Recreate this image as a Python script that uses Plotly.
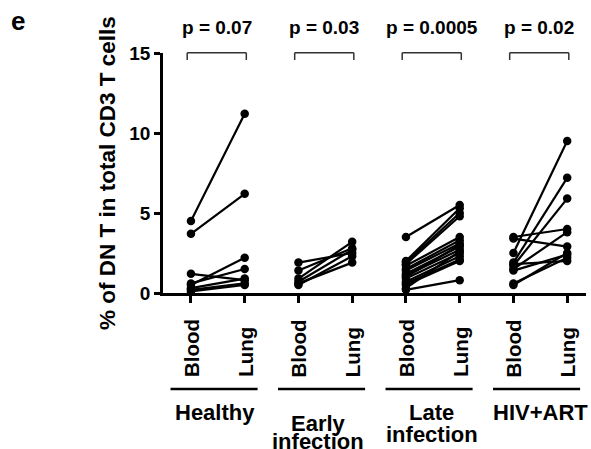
import plotly.graph_objects as go

# ---- data ----
groups = ["Healthy", "Early<br>infection", "Late<br>infection", "HIV+ART"]
sites = ["Blood", "Lung"]
p_values = ["p = 0.07", "p = 0.03", "p = 0.0005", "p = 0.02"]
y_ticks = [0, 5, 10, 15]

healthy_blood = [4.5, 3.7, 1.2, 0.5, 0.6, 0.3, 0.2, 0.1]
healthy_lung = [11.2, 6.2, 0.8, 2.2, 1.5, 0.9, 0.6, 0.5]

early_blood = [1.9, 1.4, 0.9, 0.7, 0.5, 0.6]
early_lung = [2.5, 2.8, 3.2, 2.7, 2.3, 1.9]

late_blood = [3.5, 2.0, 1.9, 1.8, 1.7, 1.5, 1.4, 1.2, 1.1, 1.0, 0.9, 0.7, 0.6, 0.5, 0.3, 0.2]
late_lung = [5.5, 5.3, 5.0, 4.8, 3.5, 3.3, 3.1, 2.9, 2.7, 3.0, 2.5, 2.3, 2.1, 2.0, 2.6, 0.8]

hiv_blood = [2.5, 1.9, 1.7, 3.5, 3.4, 1.5, 1.8, 0.5, 0.6, 1.4]
hiv_lung = [9.5, 7.2, 5.9, 4.0, 2.9, 3.8, 2.0, 2.5, 2.2, 2.4]

group_data = [
    (healthy_blood, healthy_lung),
    (early_blood, early_lung),
    (late_blood, late_lung),
    (hiv_blood, hiv_lung),
]

# ---- layout geometry (pixels) ----
W, H = 591, 449
L, R, T, B = 163, 5, 53, 156
PW, PH = W - L - R, H - T - B
FONT = "Arial, Liberation Sans, sans-serif"
label_shift = [-0.05, -0.13, -0.02, 0.0]
label_tops = [[398], [409, 427], [398, 420], [398]]


def px_x(p):
    return (p - L) / PW


def px_y(p):
    return (H - B - p) / PH


fig = go.Figure()

for gi, (blood, lung) in enumerate(group_data):
    xs, ys = [], []
    for b, l in zip(blood, lung):
        xs += [2 * gi, 2 * gi + 1, None]
        ys += [b, l, None]
    fig.add_trace(go.Scatter(
        x=xs, y=ys, mode="lines+markers",
        line=dict(color="black", width=2.2),
        marker=dict(color="black", size=8.5),
        showlegend=False, hoverinfo="skip",
    ))

annotations = []
shapes = []

for gi, g in enumerate(groups):
    xb, xl = 2 * gi, 2 * gi + 1
    # site labels
    for k, s in enumerate(sites):
        annotations.append(dict(
            x=xb + k, xref="x", y=px_y(379), yref="paper",
            text=s, textangle=-90, showarrow=False,
            xanchor="center", yanchor="bottom",
            font=dict(family=FONT, size=20.5, color="black", weight="bold"),
        ))
    # underline
    shapes.append(dict(
        type="line", xref="x", yref="paper",
        x0=xb - 0.38, x1=xl + 0.24, y0=px_y(389), y1=px_y(389),
        line=dict(color="black", width=2.5),
    ))
    # group label (one annotation per line)
    for line_text, top in zip(g.split("<br>"), label_tops[gi]):
        annotations.append(dict(
            x=(xb + xl) / 2 + label_shift[gi], xref="x", y=px_y(top), yref="paper",
            text=line_text, showarrow=False, xanchor="center", yanchor="top",
            font=dict(family=FONT, size=22, color="black", weight="bold"),
        ))
    # bracket
    x0, x1 = xb - 0.07, xl + 0.03
    for sx0, sx1, sy0, sy1 in [(x0, x1, 52.7, 52.7), (x0, x0, 52.7, 60), (x1, x1, 52.7, 60)]:
        shapes.append(dict(
            type="line", xref="x", yref="paper",
            x0=sx0, x1=sx1, y0=px_y(sy0), y1=px_y(sy1),
            line=dict(color="#333333", width=1.5),
        ))
    annotations.append(dict(
        x=(x0 + x1) / 2, xref="x", y=px_y(28), yref="paper",
        text=p_values[gi], showarrow=False, xanchor="center", yanchor="middle",
        font=dict(family=FONT, size=19, color="black", weight="bold"),
    ))

# y axis title
annotations.append(dict(
    x=px_x(107), xref="paper", y=0.5, yref="paper",
    text="% of DN T in total CD3 T cells", textangle=-90, showarrow=False,
    xanchor="center", yanchor="middle",
    font=dict(family=FONT, size=22.5, color="black", weight="bold"),
))
# panel letter
annotations.append(dict(
    x=px_x(18), xref="paper", y=px_y(21), yref="paper",
    text="e", showarrow=False, xanchor="center", yanchor="middle",
    font=dict(family=FONT, size=26, color="black", weight="bold"),
))

fig.update_layout(
    width=W, height=H,
    margin=dict(l=L, r=R, t=T, b=B),
    paper_bgcolor="white", plot_bgcolor="white",
    annotations=annotations, shapes=shapes,
    xaxis=dict(
        range=[-0.52, 7.35], showgrid=False, zeroline=False,
        showline=True, linecolor="black", linewidth=2.5,
        tickvals=list(range(8)), ticktext=[""] * 8,
        ticks="outside", ticklen=7, tickwidth=2.5, tickcolor="black",
    ),
    yaxis=dict(
        range=[0, 15], showgrid=False, zeroline=False,
        showline=True, linecolor="black", linewidth=2.5,
        tickvals=y_ticks, ticks="outside", ticklen=6, tickwidth=2.5,
        tickcolor="black",
        tickfont=dict(family=FONT, size=19, color="black", weight="bold"),
    ),
)

fig.write_html(
    "out.html",
    config={"displayModeBar": False},
    post_script="document.body.style.margin='0';document.body.style.overflow='hidden';",
)
